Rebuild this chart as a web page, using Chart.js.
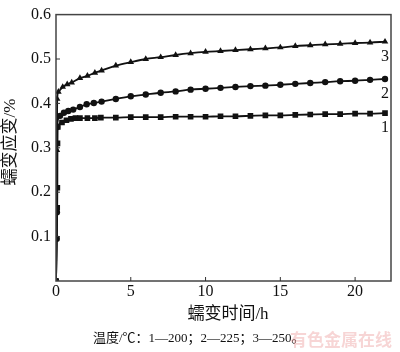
<!DOCTYPE html>
<html><head><meta charset="utf-8">
<script src="https://cdn.jsdelivr.net/npm/chart.js@4"></script>
<style>html,body{margin:0;padding:0;background:#fff}canvas{display:block}</style>
</head><body>
<canvas id="c" width="400" height="352"></canvas>
<script>
// Series 1 (200 ℃, squares)
const time1 = [0, 0.08, 0.09, 0.1, 0.12, 0.4, 0.7, 1.0, 1.3, 1.6, 2.1, 2.6, 3.0, 4, 5, 6, 7, 8, 9, 10, 11, 12, 13, 14, 15, 16, 17, 18, 19, 20, 21, 22];
const strain1 = [0, 0.165, 0.21, 0.31, 0.347, 0.357, 0.362, 0.365, 0.367, 0.367, 0.367, 0.367, 0.368, 0.368, 0.369, 0.369, 0.369, 0.37, 0.37, 0.37, 0.371, 0.371, 0.372, 0.373, 0.373, 0.374, 0.375, 0.376, 0.376, 0.377, 0.377, 0.378];
// Series 2 (225 ℃, circles)
const time2 = [0, 0.05, 0.06, 0.07, 0.27, 0.53, 0.82, 1.15, 1.6, 2.05, 2.53, 3.05, 4, 5, 6, 7, 8, 9, 10, 11, 12, 13, 14, 15, 16, 17, 18, 19, 20, 21, 22];
const strain2 = [0, 0.095, 0.155, 0.347, 0.372, 0.379, 0.383, 0.386, 0.392, 0.398, 0.401, 0.404, 0.41, 0.416, 0.42, 0.424, 0.427, 0.431, 0.433, 0.435, 0.437, 0.439, 0.44, 0.442, 0.444, 0.446, 0.448, 0.45, 0.451, 0.453, 0.455];
// Series 3 (250 ℃, triangles)
const time3 = [0, 0.06, 0.08, 0.16, 0.45, 0.75, 1.05, 1.6, 2.1, 2.6, 3.05, 4, 5, 6, 7, 8, 9, 10, 11, 12, 13, 14, 15, 16, 17, 18, 19, 20, 21, 22];
const strain3 = [0, 0.295, 0.41, 0.426, 0.437, 0.443, 0.447, 0.457, 0.462, 0.469, 0.474, 0.485, 0.493, 0.5, 0.504, 0.509, 0.513, 0.516, 0.518, 0.52, 0.522, 0.524, 0.526, 0.529, 0.531, 0.533, 0.534, 0.536, 0.537, 0.539];

const seriesLabels = ['1', '2', '3'];
const xTitle = '蠕变时间/h';
const yTitle = '蠕变应变/%';
const caption = '温度/℃：1—200；2—225；3—250。';
const watermark = '有色金属在线';

const SERIF = '"Liberation Serif", "Noto Sans CJK SC", serif';
const ink = '#111';

function pts(t, v) { return t.map((x, i) => ({x: x, y: v[i]})); }
function ds(t, v, style, r) {
  return {data: pts(t, v), borderColor: ink, backgroundColor: ink, borderWidth: 1.8,
    pointStyle: style, pointRadius: r, pointBorderWidth: 0, cubicInterpolationMode: 'monotone'};
}

const decor = {
  id: 'decor',
  afterDatasetsDraw(chart) {
    const {ctx, chartArea: a, scales: {x, y}} = chart;
    ctx.save();
    ctx.strokeStyle = '#444'; ctx.lineWidth = 1.5;
    ctx.strokeRect(a.left, a.top, a.right - a.left, a.bottom - a.top);
    ctx.lineWidth = 1; ctx.strokeStyle = '#333';
    [5, 10, 15, 20].forEach(v => { const p = x.getPixelForValue(v); ctx.beginPath(); ctx.moveTo(p, a.bottom); ctx.lineTo(p, a.bottom - 4); ctx.stroke(); });
    [0.1, 0.2, 0.3, 0.4, 0.5].forEach(v => { const p = y.getPixelForValue(v); ctx.beginPath(); ctx.moveTo(a.left, p); ctx.lineTo(a.left + 4, p); ctx.stroke(); });
    ctx.fillStyle = ink; ctx.font = '16px ' + SERIF; ctx.textAlign = 'center'; ctx.textBaseline = 'middle';
    chart.data.datasets.forEach((d, i) => {
      const last = d.data[d.data.length - 1];
      ctx.fillText(seriesLabels[i], x.getPixelForValue(last.x), y.getPixelForValue(last.y) + 15);
    });
    ctx.font = '17px ' + SERIF;
    ctx.fillText(xTitle, 228, 315);
    ctx.save(); ctx.translate(11, 142); ctx.rotate(-Math.PI / 2); ctx.fillText(yTitle, 0, 0); ctx.restore();
    ctx.font = '13px ' + SERIF; ctx.textAlign = 'left';
    ctx.fillText(caption, 93, 339);
    ctx.font = 'bold 17px "Noto Sans CJK SC", sans-serif'; ctx.fillStyle = 'rgba(236,150,150,0.4)';
    ctx.fillText(watermark, 290, 340);
    ctx.restore();
  }
};

new Chart(document.getElementById('c'), {
  type: 'line',
  data: {datasets: [ds(time1, strain1, 'rect', 4), ds(time2, strain2, 'circle', 3.2), ds(time3, strain3, 'triangle', 3.8)]},
  options: {
    responsive: false, animation: false, events: [],
    layout: {padding: {top: 4, right: 9, left: 0, bottom: 0}},
    plugins: {legend: {display: false}, tooltip: {enabled: false}},
    scales: {
      x: {type: 'linear', min: 0, max: 22.4,
        afterFit(s) { s.height = 71; },
        border: {display: false}, grid: {display: false, drawTicks: false},
        ticks: {stepSize: 5, includeBounds: false, padding: 1, color: ink, font: {family: SERIF, size: 16}, maxRotation: 0}},
      y: {type: 'linear', min: 0, max: 0.6,
        afterFit(s) { s.width = 56; },
        border: {display: false}, grid: {display: false, drawTicks: false},
        ticks: {stepSize: 0.1, includeBounds: false, padding: 5, color: ink, font: {family: SERIF, size: 16},
          callback: v => v === 0 ? '' : v.toFixed(1)}}
    }
  },
  plugins: [decor]
});
</script>
</body></html>
